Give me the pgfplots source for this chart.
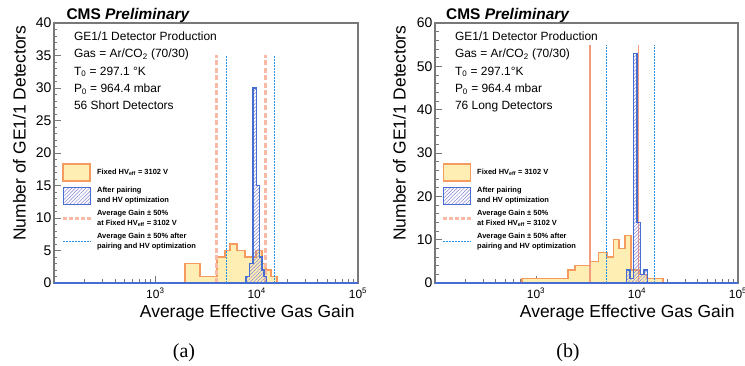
\documentclass[border=0pt]{standalone}
\usepackage{pgfplots}
\pgfplotsset{compat=1.18}
\usepackage{fontspec}
\setmainfont{Liberation Sans}
\newfontfamily\capfont{Liberation Serif}
\usetikzlibrary{patterns,patterns.meta}
\definecolor{horange}{RGB}{245,155,95}
\definecolor{yfill}{RGB}{255,238,180}
\definecolor{hblue}{RGB}{70,110,210}
\definecolor{hatchc}{RGB}{130,130,215}
\definecolor{salmonA}{RGB}{250,185,165}
\definecolor{salmonB}{RGB}{245,155,125}
\definecolor{dblue}{RGB}{35,145,230}
\definecolor{framec}{RGB}{120,120,120}

\pgfplotsset{
  gemaxis/.style={
    scale only axis, width=304bp, height=260bp,
    xmin=100, xmax=100000, ymin=0,
    xtick={100,1000,10000,100000},
    xticklabels={,10\textsuperscript{3},10\textsuperscript{4},10\textsuperscript{5}},
    minor xtick={200,300,400,500,600,700,800,900,2000,3000,4000,5000,6000,7000,8000,9000,20000,30000,40000,50000,60000,70000,80000,90000},
    xtick pos=left, ytick pos=left,
    tick align=inside,
    major tick length=7bp, minor tick length=3.5bp,
    tick style={framec, line width=0.9bp},
    axis line style={framec, line width=1.2bp},
    /pgf/number format/assume math mode=true,
    yticklabel style={font=\fontsize{14}{16}\selectfont, inner sep=0pt, xshift=-2.5bp},
    xticklabel style={font=\fontsize{12}{14}\selectfont, inner sep=0pt, yshift=-5bp},
    clip=false,
    legend cell align=left,
    legend style={draw=none, fill=none, inner sep=0pt, row sep=4.5bp, column sep=3.5bp,
      font=\fontsize{7.5}{9.5}\selectfont\bfseries, nodes={inner sep=1bp, align=left}, anchor=north west},
  },
  orangehist/.style={const plot, fill=yfill, draw=horange, line width=1.6bp},
  bluehist/.style={const plot, pattern={Lines[angle=45,distance=2.5bp,line width=0.5bp]}, pattern color=hatchc, draw=hblue, line width=1.4bp},
  bluezero/.style={hblue, line width=1.5bp},
  dotline/.style={dblue, line width=1.2bp, dash pattern=on 1.5bp off 1.5bp},
}

\newcommand{\legendset}{%
\addlegendimage{legend image code/.code={\draw[fill=yfill,draw=horange,line width=1.8bp] (0bp,-8.5bp) rectangle (27bp,8.5bp);}}
\addlegendentry{Fixed HV\textsubscript{eff} = 3102 V}
\addlegendimage{legend image code/.code={\draw[pattern={Lines[angle=45,distance=2.5bp,line width=0.5bp]},pattern color=hatchc,draw=hblue,line width=1.5bp] (0bp,-8.5bp) rectangle (27bp,8.5bp);}}
\addlegendentry{After pairing\\and HV optimization}
\addlegendimage{legend image code/.code={\draw[salmonA,line width=2.5bp,dash pattern=on 4bp off 2bp] (0bp,0bp) -- (28bp,0bp);}}
\addlegendentry{Average Gain ± 50\%\\at Fixed HV\textsubscript{eff} = 3102 V}
\addlegendimage{legend image code/.code={\draw[dblue,line width=1.2bp,dash pattern=on 1.5bp off 1.5bp] (0bp,0bp) -- (28bp,0bp);}}
\addlegendentry{Average Gain ± 50\% after\\pairing and HV optimization}
}

\begin{document}
\begin{tikzpicture}
\useasboundingbox (0bp,0bp) rectangle (745bp,366bp);

% ---------------- panel (a)
\begin{semilogxaxis}[gemaxis, at={(54bp,83bp)}, anchor=south west,
  ymax=40, ytick={0,5,...,40}, minor y tick num=4,
  legend style={at={(axis description cs:0.026,0.4615)}}]
\addplot[orangehist, forget plot] coordinates {(1965,0) (1965,3) (2762,1) (4066,4) (4877,5) (5462,6) (6405,5) (7682,4) (8604,4) (9865,5) (11305,3) (12381,2) (13875,1) (15903,0)};
\addplot[forget plot, salmonA, line width=3bp, dash pattern=on 5bp off 2.5bp] coordinates {(4036,0) (4036,35)};
\addplot[forget plot, salmonA, line width=3bp, dash pattern=on 5bp off 2.5bp] coordinates {(12105,0) (12105,35)};
\addplot[bluehist, forget plot] coordinates {(7860,0) (7860,1) (8511,3) (9215,30) (9977,15) (10681,4) (11305,2) (11835,1) (12523,0)};
\addplot[bluezero, forget plot] coordinates {(100,0) (100000,0)};
\addplot[dotline, forget plot] coordinates {(5000,0) (5000,35)};
\addplot[dotline, forget plot] coordinates {(15000,0) (15000,35)};
\legendset
\end{semilogxaxis}

% ---------------- panel (b)
\begin{semilogxaxis}[gemaxis, at={(435bp,83bp)}, anchor=south west, width=303bp,
  ymax=60, ytick={0,10,...,60}, minor y tick num=4,
  legend style={at={(axis description cs:0.0231,0.4615)}}]
\addplot[orangehist, forget plot] coordinates {(722,0) (722,1) (2088,3) (2433,4) (3424,5) (4139,7) (5012,6) (5826,10) (6636,8) (7606,11) (8721,3) (10708,2) (12560,1) (18090,0)};
\addplot[forget plot, salmonB, line width=1.5bp] coordinates {(3435,0) (3435,55)};
\addplot[forget plot, salmonB, line width=1.5bp] coordinates {(10305,0) (10305,55)};
\addplot[bluehist, forget plot] coordinates {(7907,0) (7907,3) (8524,1) (9192,53) (10000,14) (10880,2) (11730,3) (12650,0)};
\addplot[bluezero, forget plot] coordinates {(100,0) (100000,0)};
\addplot[dotline, forget plot] coordinates {(5000,0) (5000,55)};
\addplot[dotline, forget plot] coordinates {(15000,0) (15000,55)};
\legendset
\end{semilogxaxis}

% ---------------- texts (a)
\node[anchor=base west, font=\fontsize{15.5}{18}\selectfont\bfseries] at (63bp,346.7bp) {CMS \textit{Preliminary}};
\node[anchor=base west, font=\fontsize{12}{14}\selectfont] at (70.5bp,325.3bp) {GE1/1 Detector Production};
\node[anchor=base west, font=\fontsize{12}{14}\selectfont] at (70.5bp,308.1bp) {Gas = Ar/CO\textsubscript{2} (70/30)};
\node[anchor=base west, font=\fontsize{12}{14}\selectfont] at (70.5bp,290.9bp) {T\textsubscript{0} = 297.1 °K};
\node[anchor=base west, font=\fontsize{12}{14}\selectfont] at (70.5bp,273.7bp) {P\textsubscript{0} = 964.4 mbar};
\node[anchor=base west, font=\fontsize{12}{14}\selectfont] at (70.5bp,256.5bp) {56 Short Detectors};
\node[anchor=base east, font=\fontsize{17.5}{20}\selectfont] at (358bp,48bp) {Average Effective Gas Gain};
\node[anchor=base east, rotate=90, font=\fontsize{17.5}{20}\selectfont] at (25.7bp,344bp) {Number of GE1/1 Detectors};
\node[font=\capfont\fontsize{20}{24}\selectfont] at (184bp,13.5bp) {(a)};

% ---------------- texts (b)
\node[anchor=base west, font=\fontsize{15.5}{18}\selectfont\bfseries] at (442.7bp,346.7bp) {CMS \textit{Preliminary}};
\node[anchor=base west, font=\fontsize{12}{14}\selectfont] at (451.5bp,325.3bp) {GE1/1 Detector Production};
\node[anchor=base west, font=\fontsize{12}{14}\selectfont] at (451.5bp,308.1bp) {Gas = Ar/CO\textsubscript{2} (70/30)};
\node[anchor=base west, font=\fontsize{12}{14}\selectfont] at (451.5bp,290.9bp) {T\textsubscript{0} = 297.1°K};
\node[anchor=base west, font=\fontsize{12}{14}\selectfont] at (451.5bp,273.7bp) {P\textsubscript{0} = 964.4 mbar};
\node[anchor=base west, font=\fontsize{12}{14}\selectfont] at (451.5bp,256.5bp) {76 Long Detectors};
\node[anchor=base east, font=\fontsize{17.5}{20}\selectfont] at (738bp,48bp) {Average Effective Gas Gain};
\node[anchor=base east, rotate=90, font=\fontsize{17.5}{20}\selectfont] at (405.5bp,344bp) {Number of GE1/1 Detectors};
\node[font=\capfont\fontsize{20}{24}\selectfont] at (568bp,13.5bp) {(b)};
\end{tikzpicture}
\end{document}
